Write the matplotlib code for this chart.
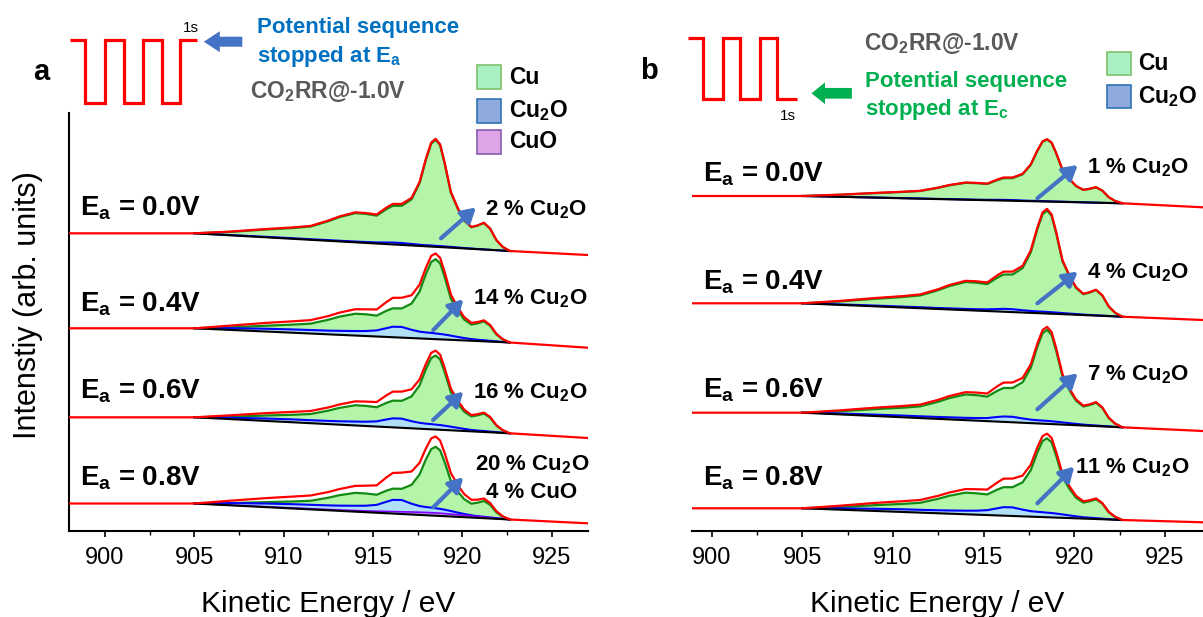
import numpy as np
import matplotlib
matplotlib.use('Agg')
import matplotlib.pyplot as plt
from matplotlib.patches import Rectangle, FancyArrow
from matplotlib.ticker import MultipleLocator

plt.rcParams['font.family'] = ['Liberation Sans', 'DejaVu Sans']
plt.rcParams['mathtext.fontset'] = 'custom'
plt.rcParams['mathtext.rm'] = 'Liberation Sans:bold'
plt.rcParams['mathtext.it'] = 'Liberation Sans:bold'
plt.rcParams['mathtext.bf'] = 'Liberation Sans:bold'

# kinetic energy points of the fitted region (eV)
energy = [905.0, 907.0, 909.0, 910.5, 911.5, 912.5, 913.1, 914.0, 914.6, 915.2, 915.75, 916.1, 916.6, 917.15,
          917.6, 917.95, 918.25, 918.5, 918.75, 919.0, 919.35, 919.75, 920.1, 920.5, 920.85, 921.2, 921.55,
          921.9, 922.25, 922.65]

# panel a: anodic stop potentials
labels_a = ['0.0V', '0.4V', '0.6V', '0.8V']
share_a = ['2 % Cu$_2$O', '14 % Cu$_2$O', '16 % Cu$_2$O', '20 % Cu$_2$O']
cu_a = [
    [0, 3.4, 7.8, 10.8, 13.3, 19.6, 24.2, 29.2, 29.0, 27.9, 35.0, 38.6, 39.1, 46.1, 62.8, 86.3, 103.0, 107,
     101.7, 83.9, 55.0, 38.9, 27.8, 21.6, 23.6, 26.6, 21.1, 10.0, 3.7, 0],
    [0, 2.6, 5.8, 8.1, 9.9, 14.6, 18.1, 21.8, 21.7, 20.9, 26.2, 28.9, 29.2, 34.5, 47.0, 64.6, 77.0, 80,
     76.0, 62.7, 41.1, 29.1, 20.8, 16.2, 17.7, 19.9, 15.8, 7.4, 2.8, 0],
    [0, 2.4, 5.4, 7.5, 9.2, 13.5, 16.7, 20.2, 20.1, 19.3, 24.2, 26.7, 27.0, 31.9, 43.4, 59.7, 71.3, 74,
     70.3, 58.0, 38.0, 26.9, 19.2, 14.9, 16.4, 18.4, 14.6, 6.9, 2.6, 0],
    [0, 2.2, 5.0, 7.0, 8.6, 12.6, 15.6, 18.8, 18.7, 18.0, 22.6, 24.9, 25.2, 29.7, 40.5, 55.7, 66.4, 69,
     65.6, 54.1, 35.5, 25.1, 17.9, 13.9, 15.2, 17.2, 13.6, 6.4, 2.4, 0],
]
cu2o_a = [
    [0, .3, .5, .6, .6, .7, .7, .8, .9, 1.1, 1.6, 1.9, 1.9, 1.5, 1.2, 1.1, 1.1, 1.0, 1.0, .9, .8, .6, .4,
     .3, .2, .2, .1, .1, 0, 0],
    [0, 1.7, 2.8, 3.3, 3.5, 3.7, 4.0, 4.5, 5.0, 6.1, 8.8, 10.5, 10.7, 8.3, 6.8, 6.3, 6.1, 5.7, 5.4, 5.0,
     4.2, 3.2, 2.4, 1.7, 1.3, 1.1, .8, .6, .2, 0],
    [0, 1.4, 2.4, 2.9, 3.0, 3.2, 3.4, 3.9, 4.3, 5.2, 7.6, 9.0, 9.2, 7.1, 5.9, 5.4, 5.2, 4.9, 4.7, 4.3,
     3.6, 2.8, 2.1, 1.4, 1.1, 1.0, .7, .5, .2, 0],
    [0, 2.2, 3.6, 4.3, 4.6, 4.9, 5.2, 5.9, 6.5, 7.9, 11.5, 13.7, 14.0, 10.8, 8.9, 8.2, 7.9, 7.5, 7.1, 6.5,
     5.5, 4.2, 3.2, 2.2, 1.7, 1.4, 1.0, .7, .3, 0],
]
cuo_a = [
    [0] * 30,
    [0] * 30,
    [0] * 30,
    [0, .2, .4, .6, .7, .8, .9, 1.1, 1.3, 1.5, 1.8, 2.0, 2.2, 2.5, 2.7, 2.8, 2.8, 2.8, 2.7, 2.6, 2.4, 2.1,
     1.9, 1.6, 1.3, 1.1, .8, .5, .2, 0],
]
# background level: left of 905 eV, at 922.65 eV, at the right edge
base_a = [(297.7, 280.0, 276.0), (202.7, 188.5, 183.3), (113.7, 97.7, 93.0), (27.5, 11.5, 7.7)]

# panel b: cathodic stop potentials
labels_b = ['0.0V', '0.4V', '0.6V', '0.8V']
share_b = ['1 % Cu$_2$O', '4 % Cu$_2$O', '7 % Cu$_2$O', '11 % Cu$_2$O']
cu_b = [
    [0, 2.0, 4.5, 6.3, 7.7, 11.3, 14.0, 16.9, 16.8, 16.2, 20.3, 22.4, 22.6, 26.7, 36.4, 50.0, 59.7, 62,
     58.9, 48.6, 31.9, 22.6, 16.1, 12.5, 13.7, 15.4, 12.2, 5.8, 2.2, 0],
    [0, 3.3, 7.5, 10.4, 12.8, 18.8, 23.3, 28.1, 27.9, 26.9, 33.7, 37.2, 37.6, 44.4, 60.5, 83.1, 99.2, 103,
     97.9, 80.8, 52.9, 37.5, 26.8, 20.8, 22.8, 25.6, 20.3, 9.6, 3.6, 0],
    [0, 3.0, 6.9, 9.5, 11.7, 17.2, 21.2, 25.7, 25.5, 24.5, 30.7, 33.9, 34.3, 40.5, 55.2, 75.9, 90.5, 94,
     89.3, 73.7, 48.3, 34.2, 24.4, 19.0, 20.8, 23.4, 18.5, 8.7, 3.3, 0],
    [0, 2.5, 5.8, 8.0, 9.8, 14.5, 17.9, 21.6, 21.4, 20.6, 25.8, 28.5, 28.8, 34.0, 46.4, 63.8, 76.1, 79,
     75.1, 61.9, 40.6, 28.8, 20.5, 16.0, 17.5, 19.7, 15.6, 7.3, 2.8, 0],
]
cu2o_b = [
    [0, .1, .2, .2, .2, .2, .3, .3, .3, .4, .6, .7, .7, .5, .4, .4, .4, .4, .3, .3, .3, .2, .2, .1, .1,
     .1, 0, 0, 0, 0],
    [0, .5, .8, .9, 1.0, 1.0, 1.1, 1.2, 1.4, 1.7, 2.4, 2.9, 2.9, 2.3, 1.9, 1.7, 1.7, 1.6, 1.5, 1.4, 1.1,
     .9, .7, .5, .4, .3, .2, .2, .1, 0],
    [0, .9, 1.4, 1.7, 1.8, 1.9, 2.1, 2.3, 2.6, 3.1, 4.6, 5.4, 5.5, 4.3, 3.5, 3.2, 3.1, 3.0, 2.8, 2.6, 2.2,
     1.7, 1.3, .9, .7, .6, .4, .3, .1, 0],
    [0, 1.3, 2.2, 2.7, 2.8, 3.0, 3.2, 3.6, 4.0, 4.9, 7.1, 8.5, 8.6, 6.7, 5.5, 5.1, 4.9, 4.6, 4.4, 4.0, 3.4,
     2.6, 2.0, 1.3, 1.1, .9, .6, .4, .2, 0],
]
cuo_b = [[0] * 30] * 4
base_b = [(335.0, 327.7, 323.7), (227.7, 214.3, 211.0), (118.3, 103.7, 100.0), (22.7, 11.0, 8.7)]

# schematic potential steps (levels and step edges)
steps_a = [1, 0, 1, 0, 1, 0, 1]
edges_a = [0, 15.4, 34.6, 53.8, 73.1, 91.5, 110, 126.9]
steps_b = [1, 0, 1, 0, 1, 0]
edges_b = [0, 15.4, 35.4, 52.7, 71.9, 89.2, 109.2]

GREEN_FILL = '#b4f5aa'
GREEN_LINE = '#138a13'
BLUE_FILL = '#b0e0f8'
BLUE_LINE = '#0000ff'
PURPLE_FILL = '#c79cf2'
PURPLE_LINE = '#8000ff'
ARROW = '#4472c4'

W, H = 1203, 617
fig = plt.figure(figsize=(W / 100, H / 100), dpi=100)


def draw_stack(ax, cu, cu2o, cuo, bases, x_lo, x_hi):
    e = np.array(energy)
    for i, (left, right, end) in enumerate(bases):
        bg = np.interp(e, [e[0], e[-1]], [left, right])
        c1 = np.array(cu[i])
        c2 = np.array(cu2o[i])
        c3 = np.array(cuo[i])
        ax.fill_between(e, bg, bg + c1, color=GREEN_FILL, lw=0, zorder=1)
        ax.plot(e, bg + c1, color=GREEN_LINE, lw=1.6, zorder=3, solid_joinstyle='round')
        ax.fill_between(e, bg, bg + c2, color=BLUE_FILL, lw=0, zorder=2)
        ax.plot(e, bg + c2, color=BLUE_LINE, lw=1.5, zorder=4, solid_joinstyle='round')
        if c3.max() > 0:
            ax.fill_between(e, bg, bg + c3, color=PURPLE_FILL, lw=0, zorder=2.5)
            ax.plot(e, bg + c3, color=PURPLE_LINE, lw=1.2, zorder=4)
        ax.plot(e, bg, color='black', lw=1.5, zorder=5)
        total = bg + c1 + c2 + c3
        ax.plot(np.r_[x_lo, e, x_hi], np.r_[left, total, end], color='red', lw=1.6, zorder=6,
                solid_joinstyle='round')


def style_axis(ax, xlim, show_left):
    ax.set_xlim(*xlim)
    ax.set_ylim(0, 418)
    ax.set_yticks([])
    ax.xaxis.set_major_locator(MultipleLocator(5))
    ax.xaxis.set_minor_locator(MultipleLocator(2.5))
    ax.tick_params(axis='x', which='major', labelsize=17, length=4.5, width=1.2, pad=7)
    ax.tick_params(axis='x', which='minor', length=3, width=1.0)
    for s in ['top', 'right']:
        ax.spines[s].set_visible(False)
    ax.spines['left'].set_visible(show_left)
    ax.spines['left'].set_linewidth(1.5)
    ax.spines['bottom'].set_linewidth(1.5)
    ax.patch.set_alpha(0)


ax_a = fig.add_axes([69.3 / W, 86 / H, 518.3 / W, 418 / H])
draw_stack(ax_a, cu_a, cu2o_a, cuo_a, base_a, 898, 927)
style_axis(ax_a, (898, 927), True)
ax_a.set_xlabel('Kinetic Energy / eV', fontsize=21.5)
ax_a.xaxis.set_label_coords(0.5, -0.142)
ax_a.set_ylabel('Intenstiy (arb. units)', fontsize=22)
ax_a.yaxis.set_label_coords(-0.05, 0.54)

ax_b = fig.add_axes([691.7 / W, 86 / H, 511.3 / W, 418 / H])
draw_stack(ax_b, cu_b, cu2o_b, cuo_b, base_b, 898.9, 927.1)
style_axis(ax_b, (898.9, 927.1), False)
ax_b.set_xlabel('Kinetic Energy / eV', fontsize=21.5)
ax_b.xaxis.set_label_coords(0.48, -0.142)

# potential step schematics
for steps, edges, (x0, x1, y0, y1) in [(steps_a, edges_a, (70, 196.9, 40, 102.7)),
                                         (steps_b, edges_b, (687.7, 796.9, 38.3, 99.3))]:
    axw = fig.add_axes([x0 / W, (H - y1) / H, (x1 - x0) / W, (y1 - y0) / H])
    axw.stairs(steps, edges, baseline=None, color='red', lw=2.3, clip_on=False)
    axw.set_xlim(edges[0], edges[-1])
    axw.set_ylim(0, 1)
    axw.axis('off')

# overlay in pixel coordinates for annotations
ov = fig.add_axes([0, 0, 1, 1], zorder=10)
ov.set_xlim(0, W)
ov.set_ylim(H, 0)
ov.axis('off')
ov.patch.set_alpha(0)

# panel a header
ov.text(41.3, 72.5, 'a', fontsize=21, fontweight='bold', ha='center', va='center')
ov.text(191, 27.7, '1s', fontsize=11, ha='center', va='center')
ov.add_patch(FancyArrow(242.3, 41.7, -38.5, 0, width=10, head_width=21, head_length=16,
                        length_includes_head=True, color=ARROW, lw=0))
ov.text(257, 33.3, 'Potential sequence', fontsize=16, fontweight='bold', color='#0070c0', va='baseline')
ov.text(257, 61.7, 'stopped at E$_a$', fontsize=16, fontweight='bold', color='#0070c0', va='baseline')
ov.text(250, 98.3, 'CO$_2$RR@-1.0V', fontsize=16.5, fontweight='bold', color='#595959', va='baseline')

# panel b header
ov.text(649, 71, 'b', fontsize=21, fontweight='bold', ha='center', va='center')
ov.text(787.5, 116, '1s', fontsize=11, ha='center', va='center')
ov.add_patch(FancyArrow(851.9, 93.3, -40.4, 0, width=10.7, head_width=21.7, head_length=13.5,
                        length_includes_head=True, color='#00b050', lw=0))
ov.text(863.5, 50, 'CO$_2$RR@-1.0V', fontsize=16.5, fontweight='bold', color='#595959', va='baseline')
ov.text(865.4, 87.3, 'Potential sequence', fontsize=16, fontweight='bold', color='#00b050', va='baseline')
ov.text(865.4, 115, 'stopped at E$_c$', fontsize=16, fontweight='bold', color='#00b050', va='baseline')

# legends
legend_a = [('Cu', '#a9f0c5', '#7fc06a'), ('Cu$_2$O', '#8faadc', '#2e75b6'), ('CuO', '#dda5e8', '#8a5cb0')]
for (name, fc, ec), yc in zip(legend_a, [77, 110.7, 142]):
    ov.add_patch(Rectangle((476.7, yc - 12), 24, 24, facecolor=fc, edgecolor=ec, lw=1.2))
    ov.text(509, yc, name, fontsize=16.5, fontweight='bold', va='center')
for (name, fc, ec), yc in zip(legend_a[:2], [63.4, 96.7]):
    ov.add_patch(Rectangle((1106.9, yc - 11.7), 24, 23.3, facecolor=fc, edgecolor=ec, lw=1.2))
    ov.text(1137.7, yc, name, fontsize=16.5, fontweight='bold', va='center')

# potential labels
for lab, yb in zip(labels_a, [215, 311, 398.3, 485]):
    ov.text(80, yb, 'E$_a$ = ' + lab, fontsize=20, fontweight='bold', va='baseline')
for lab, yb in zip(labels_b, [181.7, 290, 397, 485]):
    ov.text(702.8, yb, 'E$_a$ = ' + lab, fontsize=20, fontweight='bold', va='baseline')

# oxide fractions with arrows
arrow_props = dict(arrowstyle='-|>,head_length=0.6,head_width=0.35', lw=3, color=ARROW,
                   mutation_scale=14, shrinkA=0, shrinkB=0)
arrows_a = [((441, 238.3), (476, 207.5)), ((433.3, 330), (463.3, 299.3)),
            ((433.1, 420), (463.4, 391.7)), ((433.3, 507.3), (463.3, 477.3))]
arrows_b = [((1037.4, 198.3), (1077.7, 165)), ((1037.4, 303.3), (1077.7, 271.7)),
            ((1037.4, 409.3), (1077.7, 373.3)), ((1037.4, 503.3), (1074.3, 466.7))]
for (p0, p1) in arrows_a + arrows_b:
    ov.annotate('', xy=p1, xytext=p0, arrowprops=arrow_props)

for txt, yb in zip(share_a[:3], [215.3, 304.5, 398]):
    ov.text(587.5, yb, txt, fontsize=16, fontweight='bold', ha='right', va='baseline')
ov.text(532, 470.3, share_a[3], fontsize=16, fontweight='bold', ha='center', va='baseline')
ov.text(532, 497.7, '4 % CuO', fontsize=16, fontweight='bold', ha='center', va='baseline')
for txt, yb in zip(share_b, [173.7, 278.7, 380.3, 473.7]):
    ov.text(1189, yb, txt, fontsize=16, fontweight='bold', ha='right', va='baseline')

fig.savefig('out.png', dpi=100)
